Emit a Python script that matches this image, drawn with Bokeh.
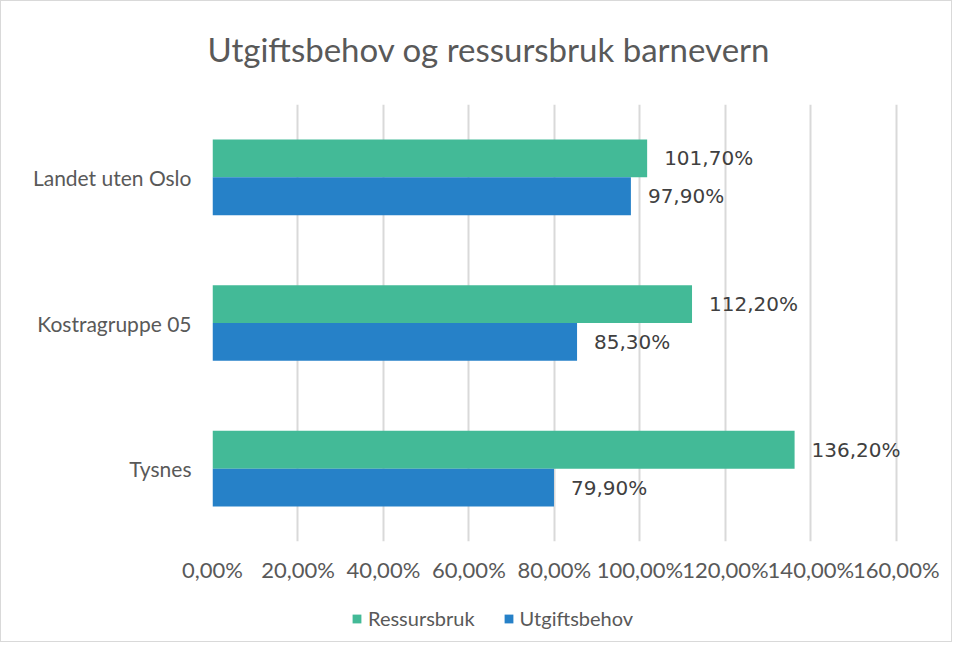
from bokeh.plotting import figure
from bokeh.layouts import column
from bokeh.models import ColumnDataSource, FactorRange, Range1d, FixedTicker, CustomJSTickFormatter, Legend, LegendItem, Title
from bokeh.transform import dodge
from bokeh.core.properties import value
from bokeh.embed import file_html
from bokeh.resources import INLINE

categories = ["Tysnes", "Kostragruppe 05", "Landet uten Oslo"]
ressursbruk = [136.2, 112.2, 101.7]
utgiftsbehov = [79.9, 85.3, 97.9]
ticks = [0, 20, 40, 60, 80, 100, 120, 140, 160]
series = ["Ressursbruk", "Utgiftsbehov"]

GREEN = "#43BA97"
BLUE = "#2681C8"
TXT = "#595959"
FONT = "Lato"
NUMFONT = "DejaVu Sans"

def fmt(v):
    return f"{v:.2f}".replace(".", ",") + "%"

src = ColumnDataSource(dict(
    cat=categories,
    res=ressursbruk,
    utg=utgiftsbehov,
    res_lbl=[fmt(v) for v in ressursbruk],
    utg_lbl=[fmt(v) for v in utgiftsbehov],
))

p = figure(width=950, height=595, output_backend="svg", toolbar_location=None,
           y_range=FactorRange(factors=categories, range_padding=0),
           x_range=Range1d(0, 168),
           min_border_left=211, min_border_right=21, min_border_top=103, min_border_bottom=55)

p.title.text = "Utgiftsbehov og ressursbruk barnevern"
p.title.align = "left"
p.title.offset = -5
p.title.text_font = FONT
p.title.text_font_size = "33px"
p.title.text_font_style = "normal"
p.title.text_color = TXT
p.add_layout(Title(text=" ", text_font_size="17px"), "above")

r1 = p.hbar(y=dodge("cat", 0.13, range=p.y_range), right="res", left=0, height=0.26,
            source=src, fill_color=GREEN, line_color=None)
r2 = p.hbar(y=dodge("cat", -0.13, range=p.y_range), right="utg", left=0, height=0.26,
            source=src, fill_color=BLUE, line_color=None)

p.text(x="res", y=dodge("cat", 0.13, range=p.y_range), text="res_lbl", source=src,
       x_offset=17, text_baseline="middle", text_align="left",
       text_font=value(NUMFONT), text_font_size="20px", text_color="#404040")
p.text(x="utg", y=dodge("cat", -0.13, range=p.y_range), text="utg_lbl", source=src,
       x_offset=17, text_baseline="middle", text_align="left",
       text_font=value(NUMFONT), text_font_size="20px", text_color="#404040")

p.xaxis.ticker = FixedTicker(ticks=ticks)
p.xaxis.formatter = CustomJSTickFormatter(code="return tick.toFixed(2).replace('.', ',') + '%';")
for ax in (p.xaxis, p.yaxis):
    ax.axis_line_color = None
    ax.major_tick_line_color = None
    ax.minor_tick_line_color = None
    ax.major_label_text_font = FONT
    ax.major_label_text_color = TXT
p.xaxis.major_label_text_font_size = "22px"
p.yaxis.major_label_text_font_size = "21px"
p.xaxis.major_label_standoff = 8
p.yaxis.major_label_standoff = 15

p.ygrid.grid_line_color = None
p.xgrid.grid_line_color = "#d9d9d9"
p.xgrid.grid_line_width = 2
p.outline_line_color = None

# legend strip: zero-height copies of the bars so the legend has real renderers
lg = figure(width=950, height=45, output_backend="svg", toolbar_location=None,
            x_range=Range1d(1000, 1001), y_range=FactorRange(factors=categories),
            min_border=0)
lg.axis.visible = False
lg.grid.visible = False
lg.outline_line_color = None
l1 = lg.hbar(y="cat", right="res", left=0, height=0, source=src, fill_color=GREEN, line_color=None)
l2 = lg.hbar(y="cat", right="utg", left=0, height=0, source=src, fill_color=BLUE, line_color=None)
legend = Legend(items=[LegendItem(label=series[0], renderers=[l1]),
                       LegendItem(label=series[1], renderers=[l2])],
                orientation="horizontal", location=(139, 11),
                label_text_font=FONT, label_text_font_size="20px", label_text_color=TXT,
                glyph_width=11, glyph_height=11, spacing=28, label_standoff=6,
                padding=0, margin=0, border_line_color=None, background_fill_alpha=0)
lg.add_layout(legend)

layout = column(p, lg, spacing=0)
layout.styles = {"border": "1px solid #d9d9d9"}
open("out.html", "w").write(file_html(layout, INLINE))
